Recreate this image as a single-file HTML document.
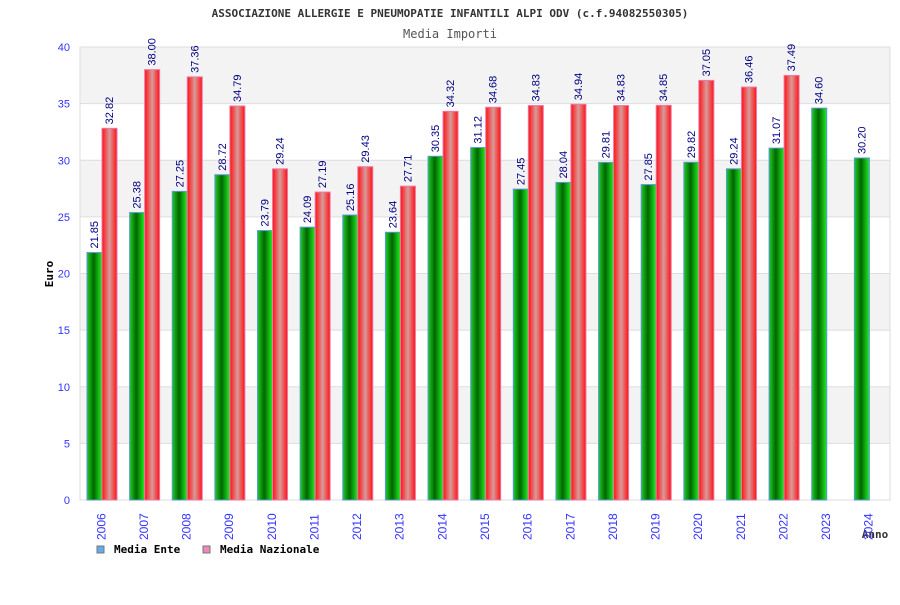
<!DOCTYPE html>
<html><head><meta charset="utf-8"><style>
body{margin:0;background:#fff;width:900px;height:600px;overflow:hidden}
svg{font-family:"DejaVu Sans Mono","Liberation Mono",monospace}
.s{font-family:"Liberation Sans","DejaVu Sans",sans-serif}
</style></head><body>
<svg id="c" width="900" height="600" xmlns="http://www.w3.org/2000/svg">
<defs>
<linearGradient id="gG" x1="0" x2="1" y1="0" y2="0"><stop offset="0" stop-color="#22cc22"/><stop offset="0.45" stop-color="#006600"/><stop offset="1" stop-color="#22ee22"/></linearGradient>
<linearGradient id="gR" x1="0" x2="1" y1="0" y2="0"><stop offset="0" stop-color="#ff1111"/><stop offset="0.5" stop-color="#d99a9a"/><stop offset="1" stop-color="#ff1111"/></linearGradient>
</defs>
<text x="450" y="17" text-anchor="middle" font-size="11" font-weight="bold" fill="#333">ASSOCIAZIONE ALLERGIE E PNEUMOPATIE INFANTILI ALPI ODV (c.f.94082550305)</text>
<text x="450" y="38" text-anchor="middle" font-size="12" fill="#555">Media Importi</text>
<text transform="translate(53,274) rotate(-90)" text-anchor="middle" font-size="11" font-weight="bold" fill="#000">Euro</text>
<text x="875" y="538" text-anchor="middle" font-size="11" font-weight="bold" fill="#333">Anno</text>
<g id="plot"></g>
<g>
<rect x="97" y="546" width="7" height="7" fill="#66aaee" stroke="#777"/>
<text x="114" y="553" font-size="11" font-weight="bold" fill="#000">Media Ente</text>
<rect x="203" y="546" width="7" height="7" fill="#ee88bb" stroke="#777"/>
<text x="220" y="553" font-size="11" font-weight="bold" fill="#000">Media Nazionale</text>
</g>
</svg>
<script>
const years=["2006","2007","2008","2009","2010","2011","2012","2013","2014","2015","2016","2017","2018","2019","2020","2021","2022","2023","2024"];
const ente=[21.85,25.38,27.25,28.72,23.79,24.09,25.16,23.64,30.35,31.12,27.45,28.04,29.81,27.85,29.82,29.24,31.07,34.60,30.20];
const nazionale=[32.82,38.00,37.36,34.79,29.24,27.19,29.43,27.71,34.32,34.68,34.83,34.94,34.83,34.85,37.05,36.46,37.49,null,null];
const yTicks=[0,5,10,15,20,25,30,35,40];
const NS="http://www.w3.org/2000/svg";
const L=80,R=890,T=47,B=500,yMax=40;
const y=v=>B-(v/yMax)*(B-T);
const gw=(R-L)/years.length;
const x=i=>L+i*gw;
const g=document.getElementById('plot');
function mk(t,a){const e=document.createElementNS(NS,t);for(const k in a)e.setAttribute(k,a[k]);g.appendChild(e);return e;}
for(let i=0;i<yTicks.length-1;i++){
  const band=mk('rect',{x:L,y:y(yTicks[i+1]),width:R-L,height:y(yTicks[i])-y(yTicks[i+1]),fill:(i%2===1)?'#f3f3f3':'#ffffff'});
  
  
}
yTicks.forEach(t=>{
  const ln=mk('line',{x1:L,x2:R,y1:y(t),y2:y(t),stroke:'#dddddd'});
  
  
  const tx=mk('text',{x:70,y:y(t)+4,'text-anchor':'end','font-size':'11',fill:'#3333ff',class:'s'});
  tx.textContent=t;
  
  
});
const ax=mk('rect',{x:L,y:T,width:R-L,height:B-T,fill:'none',stroke:'#dddddd'});


function bar(v,bx,fill,stroke,name){
  const r=mk('rect',{x:bx,y:y(v),width:15,height:B-y(v),fill:fill,stroke:stroke,'stroke-width':'1'});
  
  
  const t=mk('text',{transform:`translate(${bx+11},${y(v)-4}) rotate(-90)`,'font-size':'11',fill:'#000080',class:'s'});
  t.textContent=v.toFixed(2);
  
  
}
years.forEach((yr,i)=>{
  const gx=x(i)+7;
  if(ente[i]!=null)bar(ente[i],gx,'url(#gG)','#5599dd','bar-ente-'+yr);
  if(nazionale[i]!=null)bar(nazionale[i],gx+15,'url(#gR)','#ee77aa','bar-nazionale-'+yr);
  const t=mk('text',{transform:`translate(${x(i)+gw/2+4},${540}) rotate(-90)`,'font-size':'12',fill:'#3333ff',class:'s'});
  t.textContent=yr;
  
  
});
</script>
</body></html>
